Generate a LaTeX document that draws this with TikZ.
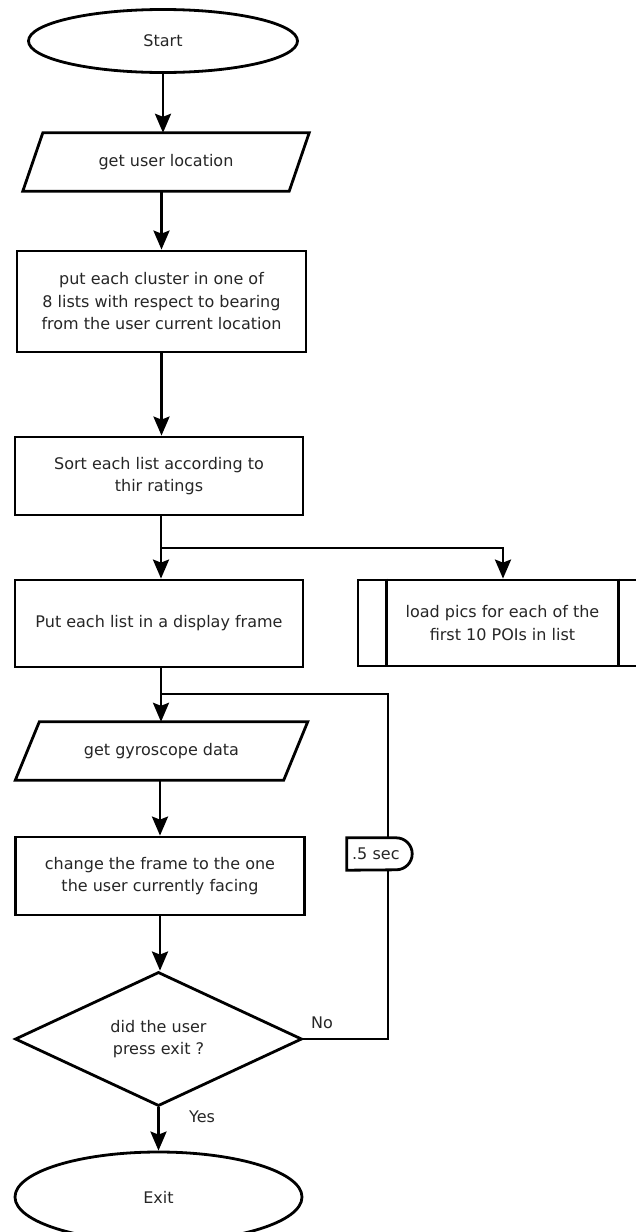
\documentclass[tikz,border=0pt]{standalone}
\usepackage{fontspec}
\setmainfont{DejaVu Sans}
\usetikzlibrary{shapes.geometric,arrows.meta}

\begin{document}
\begin{tikzpicture}[x=1pt,y=-1pt,
  every node/.style={font=\fontsize{16}{22.5}\selectfont, text=black!85, align=center},
  line/.style={line width=2.8pt, draw=black},
  flow/.style={line, -{Stealth[length=19pt,width=16pt,inset=3pt]}},
  term/.style={line, ellipse, inner sep=0pt},
  proc/.style={line, rectangle, inner sep=0pt},
  iobox/.style={rectangle, inner sep=0pt, minimum height=58pt},
  decision/.style={line, diamond, inner sep=0pt},
  delaybox/.style={rectangle, inner sep=5pt, text width=56pt, align=left, minimum height=32pt},
  lbl/.style={inner sep=0pt}
]
\useasboundingbox (0,0) rectangle (636,1232);
\fill[white] (0,0) rectangle (636,1232);
\clip (0,0) rectangle (636,1232);

% ---- nodes ----
\node[term, minimum width=269pt, minimum height=63pt] (start) at (163,41) {Start};

\node[iobox, minimum width=266pt] (getloc) at (166,162) {get user location};
\draw[line] ([xshift=10pt]getloc.north west) -- ([xshift=10pt]getloc.north east)
  -- ([xshift=-10pt]getloc.south east) -- ([xshift=-10pt]getloc.south west) -- cycle;

\node[proc, minimum width=289pt, minimum height=101pt] (cluster) at (161.5,301.5)
  {put each cluster in one of\\8 lists with respect to bearing\\from the user current location};

\node[proc, minimum width=288pt, minimum height=78pt] (sort) at (159,476)
  {Sort each list according to\\thir ratings};

\node[proc, minimum width=288pt, minimum height=87pt] (put) at (159,623.5)
  {Put each list in a display frame};

\node[proc, minimum width=289pt, minimum height=86pt] (load) at (502.5,623)
  {load pics for each of the\\first 10 POIs in list};
\draw[line] ([xshift=30pt]load.north west) -- ([xshift=30pt]load.south west);
\draw[line] ([xshift=-30pt]load.north east) -- ([xshift=-30pt]load.south east);

\node[iobox, minimum width=268pt] (gyro) at (161.5,751) {get gyroscope data};
\draw[line] ([xshift=12pt]gyro.north west) -- ([xshift=12pt]gyro.north east)
  -- ([xshift=-12pt]gyro.south east) -- ([xshift=-12pt]gyro.south west) -- cycle;

\node[proc, minimum width=289pt, minimum height=78pt] (change) at (160,876)
  {change the frame to the one\\the user currently facing};

\node[decision, minimum width=287pt, minimum height=122pt] (exitq) at (158.5,1039)
  {did the user\\press exit ?};

\node[term, minimum width=287pt, minimum height=90pt] (exit) at (158.5,1197) {Exit};

% ---- connectors ----
\draw[flow] (start.south) -- (start.south |- getloc.north);
\draw[flow] (getloc.south -| cluster.north) -- (cluster.north);
\draw[flow] (cluster.south) -- (cluster.south |- sort.north);

\coordinate (split) at (161,548);
\coordinate (splitR) at (503,548);
\draw[line] (sort.south -| split) -- (split);
\draw[flow] (split) -- (split |- put.north);
\draw[flow] (split) -- (splitR) -- (splitR |- load.north);

\coordinate (join) at (161,694);
\coordinate (loopT) at (388,694);
\draw[flow] (put.south -| join) -- (join |- gyro.north);
\draw[flow] (gyro.south -| change.north) -- (change.north);
\draw[flow] (change.south) -- (change.south |- exitq.north);
\draw[flow] (exitq.south) -- (exitq.south |- exit.north);

% loop back through the delay
\draw[line] (exitq.east) -| (loopT) -- (join);

\node[delaybox] (delay) at (380,854) {.5 sec};
\fill[white] (delay.north west) -- ([xshift=-17pt]delay.north east)
  arc[start angle=90, end angle=-90, radius=16pt] -- (delay.south west) -- cycle;
\draw[line] (delay.north west) -- ([xshift=-17pt]delay.north east)
  arc[start angle=90, end angle=-90, radius=16pt] -- (delay.south west) -- cycle;
\node[delaybox] at (delay) {.5 sec};

% ---- labels ----
\node[lbl] (no) at (322,1023) {No};
\node[lbl] (yes) at (202,1117) {Yes};
\end{tikzpicture}
\end{document}
